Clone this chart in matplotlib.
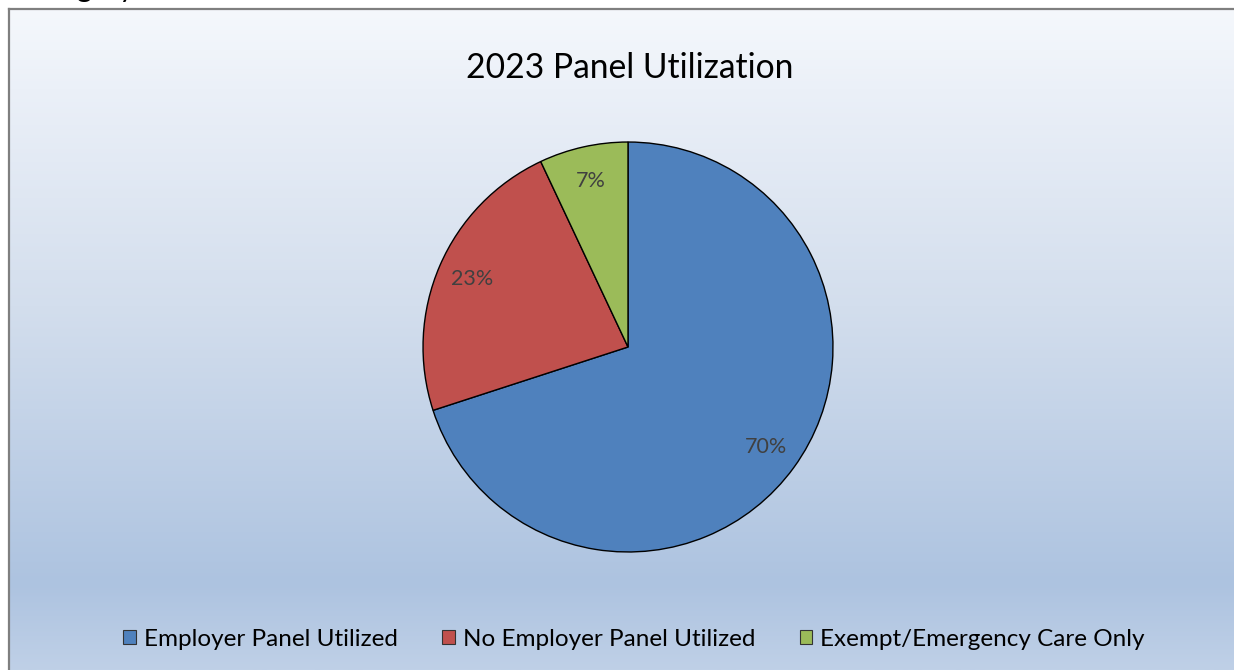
import numpy as np
import matplotlib
matplotlib.use("Agg")
import matplotlib.pyplot as plt
from matplotlib.colors import LinearSegmentedColormap
from matplotlib.patches import Patch

plt.rcParams['font.family'] = ['Lato', 'DejaVu Sans']

title = "2023 Panel Utilization"
labels = ["Employer Panel Utilized", "No Employer Panel Utilized",
          "Exempt/Emergency Care Only"]
shares = [70, 23, 7]
colors = ["#4F81BD", "#C0504D", "#9BBB59"]

W, H = 1234, 670
fig = plt.figure(figsize=(W / 100, H / 100), dpi=100, facecolor="white")

# background panel in pixel coordinates
bg = fig.add_axes([0, 0, 1, 1])
bg.set_xlim(0, W)
bg.set_ylim(H, 0)
bg.axis("off")

grad = LinearSegmentedColormap.from_list(
    "panel", [(0.0, "#f5f8fc"), (0.12, "#ebf0f8"), (0.45, "#d3deed"),
              (0.87, "#adc3e0"), (1.0, "#bfd0e7")])
ramp = np.linspace(0, 1, 256).reshape(-1, 1)
bg.imshow(ramp, cmap=grad, aspect="auto", extent=(9, W, H, 9), zorder=0)
bg.plot([8.5, 8.5], [H, 8.5], color="#7f7f7f", lw=1.6, zorder=2)
bg.plot([8.5, W], [8.5, 8.5], color="#7f7f7f", lw=1.6, zorder=2)

# tail of the heading above the chart box
bg.text(18, -3, "Category", fontsize=21, color="black", va="baseline",
        ha="left", clip_on=True)

bg.text(630, 68, title, fontsize=24.2, color="black", ha="center", va="center")

# pie centred at (628, 347), radius 205 px
cx, cy, r = 628, 347, 206
ax = fig.add_axes([(cx - r) / W, (H - cy - r) / H, 2 * r / W, 2 * r / H])
wedges, _, autotexts = ax.pie(
    shares, colors=colors, startangle=90, counterclock=False,
    autopct="%d%%", pctdistance=0.83, radius=1,
    wedgeprops=dict(edgecolor="black", linewidth=1.0))
for t in autotexts:
    t.set_color("#404040")
    t.set_fontsize(15.5)
ax.set_xlim(-1.005, 1.005)
ax.set_ylim(-1.005, 1.005)
ax.set_aspect("equal")
ax.axis("off")

handles = [Patch(facecolor=c, edgecolor="#333333", linewidth=0.8) for c in colors]
fig.legend(handles, labels, loc="center", bbox_to_anchor=(634 / W, 1 - 639 / H),
           ncol=3, frameon=False, fontsize=17.5, handlelength=0.5,
           handleheight=0.5, handletextpad=0.33, columnspacing=1.85)

fig.savefig("out.png", dpi=100, facecolor="white")
